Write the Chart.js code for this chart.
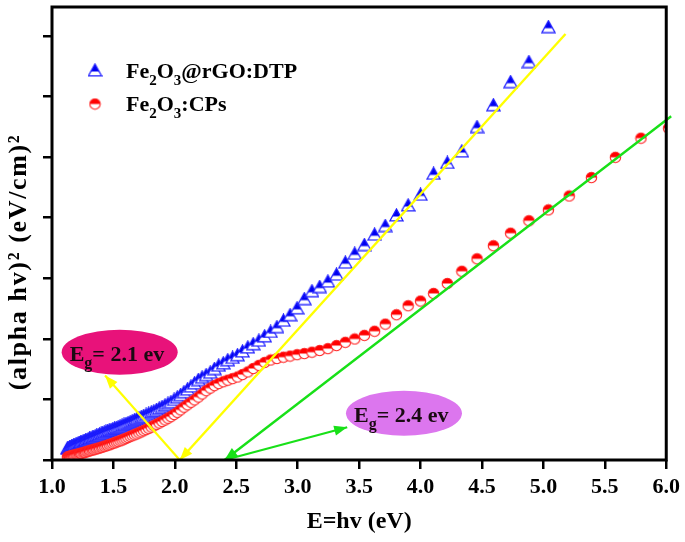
<!DOCTYPE html>
<html>
<head>
<meta charset="utf-8">
<script src="https://cdn.jsdelivr.net/npm/chart.js@4.4.1/dist/chart.umd.min.js"></script>
<style>
  html, body { margin: 0; padding: 0; background: #fff; }
  #wrap { width: 685px; height: 542px; }
</style>
</head>
<body>
<div id="wrap"><canvas id="grafico" width="685" height="542"></canvas></div>
<script>
// energia dos fotões (eV), mesma grelha para as duas amostras
const energia = [
  1.125, 1.133, 1.142, 1.150, 1.159, 1.168, 1.176, 1.185, 1.195, 1.204,
  1.213, 1.223, 1.233, 1.242, 1.253, 1.263, 1.273, 1.284, 1.294, 1.305,
  1.316, 1.328, 1.339, 1.351, 1.363, 1.375, 1.387, 1.400, 1.412, 1.425,
  1.439, 1.452, 1.466, 1.480, 1.494, 1.509, 1.523, 1.538, 1.554, 1.570,
  1.586, 1.602, 1.619, 1.636, 1.653, 1.671, 1.689, 1.708, 1.727, 1.746,
  1.766, 1.787, 1.808, 1.829, 1.851, 1.873, 1.896, 1.920, 1.944, 1.968,
  1.994, 2.020, 2.046, 2.074, 2.102, 2.131, 2.160, 2.191, 2.222, 2.255,
  2.288, 2.322, 2.357, 2.394, 2.431, 2.470, 2.510, 2.551, 2.594, 2.638,
  2.684, 2.731, 2.780, 2.831, 2.884, 2.938, 2.995, 3.054, 3.116, 3.179,
  3.246, 3.316, 3.388, 3.464, 3.543, 3.626, 3.713, 3.804, 3.899, 4.000,
  4.106, 4.218, 4.336, 4.460, 4.593, 4.733, 4.882, 5.041, 5.210, 5.391,
  5.586, 5.794, 6.019
];

// Fe2O3@rGO:DTP (vai até 5.041 eV)
const rgoDtp = [
  0.197, 0.203, 0.211, 0.220, 0.228, 0.236, 0.243, 0.251, 0.261, 0.269,
  0.277, 0.285, 0.295, 0.302, 0.311, 0.320, 0.328, 0.338, 0.346, 0.356,
  0.366, 0.375, 0.385, 0.395, 0.405, 0.415, 0.426, 0.438, 0.448, 0.459,
  0.472, 0.482, 0.493, 0.503, 0.515, 0.526, 0.536, 0.548, 0.561, 0.574,
  0.587, 0.602, 0.616, 0.631, 0.646, 0.662, 0.679, 0.697, 0.715, 0.733,
  0.751, 0.770, 0.790, 0.810, 0.833, 0.856, 0.882, 0.908, 0.934, 0.962,
  1.000, 1.038, 1.077, 1.126, 1.170, 1.220, 1.272, 1.328, 1.367, 1.408,
  1.449, 1.508, 1.564, 1.602, 1.654, 1.693, 1.736, 1.798, 1.864, 1.918,
  1.975, 2.048, 2.121, 2.200, 2.305, 2.397, 2.511, 2.662, 2.792, 2.862,
  2.952, 3.066, 3.264, 3.410, 3.554, 3.726, 3.869, 4.043, 4.208, 4.384,
  4.730, 4.910, 5.098, 5.502, 5.861, 6.243, 6.574, 7.151
];

// Fe2O3:CPs
const fe2o3Cps = [
  0.049, 0.054, 0.059, 0.064, 0.069, 0.074, 0.077, 0.082, 0.087, 0.092,
  0.097, 0.102, 0.108, 0.113, 0.120, 0.125, 0.131, 0.139, 0.146, 0.152,
  0.159, 0.166, 0.172, 0.179, 0.185, 0.192, 0.200, 0.208, 0.216, 0.225,
  0.234, 0.243, 0.252, 0.262, 0.274, 0.284, 0.295, 0.305, 0.318, 0.330,
  0.344, 0.357, 0.372, 0.387, 0.402, 0.416, 0.431, 0.448, 0.466, 0.484,
  0.503, 0.523, 0.544, 0.566, 0.589, 0.611, 0.636, 0.662, 0.689, 0.716,
  0.751, 0.787, 0.828, 0.872, 0.911, 0.952, 0.993, 1.039, 1.090, 1.144,
  1.187, 1.228, 1.262, 1.292, 1.318, 1.343, 1.370, 1.410, 1.454, 1.510,
  1.562, 1.610, 1.651, 1.675, 1.697, 1.716, 1.738, 1.757, 1.780, 1.807,
  1.838, 1.889, 1.943, 1.997, 2.057, 2.125, 2.243, 2.397, 2.546, 2.623,
  2.749, 2.913, 3.115, 3.320, 3.536, 3.743, 3.948, 4.128, 4.357, 4.661,
  4.995, 5.311, 5.475
];

// retas de ajuste (Tauc) e setas para os rótulos
const ajusteRgoX = [2.04, 5.18];
const ajusteRgoY = [0, 7.03];
const ajusteCpsX = [2.405, 6.04];
const ajusteCpsY = [0, 5.672];
const setaRgoX = [2.04, 1.432];
const setaRgoY = [0, 1.393];
const setaCpsX = [2.405, 3.403];
const setaCpsY = [0, 0.541];

// rótulos Eg: centro da elipse (x, y) e texto
const rotuloRgo = { x: 1.551, y: 1.779, texto: '= 2.1 ev', cor: '#e8127a' };
const rotuloCps = { x: 3.865, y: 0.770, texto: '= 2.4 ev', cor: '#dc76ee' };

const xMin = 1.0, xMax = 6.0, xPasso = 0.5;
const yMin = 0, yMax = 7.475, yPasso = 1;

const serif = "'Liberation Serif', 'Times New Roman', serif";

// marcadores meio cheios
function trianguloMeio() {
  const c = document.createElement('canvas');
  c.width = 15; c.height = 14;
  const g = c.getContext('2d');
  const path = () => { g.beginPath(); g.moveTo(7.5, 1); g.lineTo(14, 12.8); g.lineTo(1, 12.8); g.closePath(); };
  path(); g.fillStyle = '#fff'; g.fill();
  g.save(); g.beginPath(); g.rect(0, 0, 15, 8.4); g.clip();
  path(); g.fillStyle = '#0000f0'; g.fill(); g.restore();
  path(); g.strokeStyle = '#2020ff'; g.lineWidth = 1.3; g.stroke();
  return c;
}

function circuloMeio() {
  const c = document.createElement('canvas');
  c.width = 13; c.height = 13;
  const g = c.getContext('2d');
  const path = () => { g.beginPath(); g.arc(6.5, 6.5, 5.2, 0, Math.PI * 2); };
  path(); g.fillStyle = '#fff'; g.fill();
  g.save(); g.beginPath(); g.rect(0, 0, 13, 6.5); g.clip();
  path(); g.fillStyle = '#ff0000'; g.fill(); g.restore();
  path(); g.strokeStyle = '#ff2020'; g.lineWidth = 1.1; g.stroke();
  return c;
}

const marcaTri = trianguloMeio();
const marcaCirc = circuloMeio();

const pontosRgo = rgoDtp.map((v, i) => ({ x: energia[i], y: v }));
const pontosCps = fe2o3Cps.map((v, i) => ({ x: energia[i], y: v }));
const retaRgo = ajusteRgoX.map((v, i) => ({ x: v, y: ajusteRgoY[i] }));
const retaCps = ajusteCpsX.map((v, i) => ({ x: v, y: ajusteCpsY[i] }));

function ponta(ctx, x0, y0, x1, y1, cor) {
  const a = Math.atan2(y1 - y0, x1 - x0);
  const len = 13, w = 5;
  ctx.save();
  ctx.fillStyle = cor;
  ctx.beginPath();
  ctx.moveTo(x1, y1);
  ctx.lineTo(x1 - len * Math.cos(a) + w * Math.sin(a), y1 - len * Math.sin(a) - w * Math.cos(a));
  ctx.lineTo(x1 - len * Math.cos(a) - w * Math.sin(a), y1 - len * Math.sin(a) + w * Math.cos(a));
  ctx.closePath();
  ctx.fill();
  ctx.restore();
}

// texto com índices (subscritos)
function textoComIndices(ctx, partes, x, y, tam, tamSub) {
  let cx = x;
  partes.forEach(p => {
    ctx.font = 'bold ' + (p.sub ? tamSub : tam) + 'px ' + serif;
    ctx.fillText(p.t, cx, p.sub ? y + tam * 0.3 : y);
    cx += ctx.measureText(p.t).width;
  });
}

const anotacoes = {
  id: 'anotacoes',
  afterDatasetsDraw(chart) {
    const ctx = chart.ctx;
    const sx = chart.scales.x, sy = chart.scales.y;
    const a = chart.chartArea;

    // setas ligando os interceptos às elipses
    ctx.save();
    ctx.lineWidth = 2.2;
    ctx.strokeStyle = '#ffff00';
    ctx.beginPath();
    ctx.moveTo(sx.getPixelForValue(setaRgoX[0]), sy.getPixelForValue(setaRgoY[0]));
    ctx.lineTo(sx.getPixelForValue(setaRgoX[1]), sy.getPixelForValue(setaRgoY[1]));
    ctx.stroke();
    ctx.strokeStyle = '#18e018';
    ctx.beginPath();
    ctx.moveTo(sx.getPixelForValue(setaCpsX[0]), sy.getPixelForValue(setaCpsY[0]));
    ctx.lineTo(sx.getPixelForValue(setaCpsX[1]), sy.getPixelForValue(setaCpsY[1]));
    ctx.stroke();
    ctx.restore();

    ponta(ctx, sx.getPixelForValue(setaRgoX[0]), sy.getPixelForValue(setaRgoY[0]),
      sx.getPixelForValue(setaRgoX[1]), sy.getPixelForValue(setaRgoY[1]), '#ffff00');
    ponta(ctx, sx.getPixelForValue(ajusteRgoX[1]), sy.getPixelForValue(ajusteRgoY[1]),
      sx.getPixelForValue(ajusteRgoX[0]), sy.getPixelForValue(ajusteRgoY[0]), '#ffff00');
    ponta(ctx, sx.getPixelForValue(setaCpsX[0]), sy.getPixelForValue(setaCpsY[0]),
      sx.getPixelForValue(setaCpsX[1]), sy.getPixelForValue(setaCpsY[1]), '#18e018');
    ponta(ctx, sx.getPixelForValue(ajusteCpsX[1]), sy.getPixelForValue(ajusteCpsY[1]),
      sx.getPixelForValue(ajusteCpsX[0]), sy.getPixelForValue(ajusteCpsY[0]), '#18e018');

    // elipses com Eg
    [rotuloRgo, rotuloCps].forEach(r => {
      const cx = sx.getPixelForValue(r.x), cy = sy.getPixelForValue(r.y);
      ctx.save();
      ctx.fillStyle = r.cor;
      ctx.beginPath();
      ctx.ellipse(cx, cy, 58, 22.5, 0, 0, Math.PI * 2);
      ctx.fill();
      ctx.fillStyle = '#1a0a12';
      ctx.textBaseline = 'alphabetic';
      textoComIndices(ctx, [{ t: 'E' }, { t: 'g', sub: true }, { t: r.texto }], cx - 50, cy + 9, 22, 16);
      ctx.restore();
    });

    // moldura
    ctx.save();
    ctx.strokeStyle = '#000';
    ctx.lineWidth = 3;
    ctx.strokeRect(a.left, a.top, a.right - a.left, a.bottom - a.top);
    ctx.restore();

    // legenda
    ctx.save();
    ctx.drawImage(marcaTri, 95 - marcaTri.width / 2, 70 - marcaTri.height / 2);
    ctx.drawImage(marcaCirc, 95 - marcaCirc.width / 2, 104 - marcaCirc.height / 2);
    ctx.fillStyle = '#000';
    textoComIndices(ctx, [{ t: 'Fe' }, { t: '2', sub: true }, { t: 'O' }, { t: '3', sub: true }, { t: '@rGO:DTP' }], 126, 78, 22, 15);
    textoComIndices(ctx, [{ t: 'Fe' }, { t: '2', sub: true }, { t: 'O' }, { t: '3', sub: true }, { t: ':CPs' }], 126, 111, 22, 15);
    ctx.restore();

    // título do eixo y
    const tituloY = '(alpha hv)\u00b2 (eV/cm)\u00b2';
    ctx.save();
    ctx.font = 'bold 26px ' + serif;
    const larg = ctx.measureText(tituloY).width;
    const esp = Math.max(0, (255 - larg) / (tituloY.length - 1));
    if ('letterSpacing' in ctx) ctx.letterSpacing = esp.toFixed(2) + 'px';
    ctx.translate(19, 262);
    ctx.rotate(-Math.PI / 2);
    ctx.fillStyle = '#000';
    ctx.textAlign = 'center';
    ctx.textBaseline = 'middle';
    ctx.fillText(tituloY, 0, 0);
    ctx.restore();
  }
};

Chart.defaults.font.family = serif;
Chart.defaults.color = '#000';

const ctx = document.getElementById('grafico').getContext('2d');
const grafico = new Chart(ctx, {
  type: 'scatter',
  data: {
    datasets: [
      {
        label: 'ajuste rGO', data: retaRgo, showLine: true, borderColor: '#ffff00',
        borderWidth: 2.4, pointRadius: 0, order: 0
      },
      {
        label: 'ajuste CPs', data: retaCps, showLine: true, borderColor: '#18e018',
        borderWidth: 2.4, pointRadius: 0, order: 0, clip: false
      },
      {
        label: 'Fe2O3:CPs', data: pontosCps, pointStyle: marcaCirc, pointRadius: 6, order: 1
      },
      {
        label: 'Fe2O3@rGO:DTP', data: pontosRgo, pointStyle: marcaTri, pointRadius: 6, order: 2
      }
    ]
  },
  options: {
    responsive: false,
    animation: false,
    devicePixelRatio: 1,
    layout: { padding: { top: 4, right: 17, left: 0, bottom: 0 } },
    plugins: { legend: { display: false }, tooltip: { enabled: false } },
    scales: {
      x: {
        type: 'linear', min: xMin, max: xMax,
        border: { display: false },
        grid: { drawOnChartArea: false, drawTicks: true, tickLength: 9, lineWidth: 2.5, color: '#000' },
        ticks: {
          stepSize: xPasso, padding: 5, includeBounds: false,
          font: { size: 22, weight: 'bold' },
          callback: v => Number(v).toFixed(1)
        },
        title: {
          display: true, text: 'E=hv (eV)',
          font: { size: 24, weight: 'bold' }, padding: { top: 0, bottom: 6 }
        },
        afterFit: s => { s.height = 82; }
      },
      y: {
        type: 'linear', min: yMin, max: yMax,
        border: { display: false },
        grid: { drawOnChartArea: false, drawTicks: true, tickLength: 9, lineWidth: 2.5, color: '#000' },
        ticks: { stepSize: yPasso, display: false, includeBounds: false },
        title: { display: false },
        afterFit: s => { s.width = 52; }
      }
    }
  },
  plugins: [anotacoes]
});
</script>
</body>
</html>
